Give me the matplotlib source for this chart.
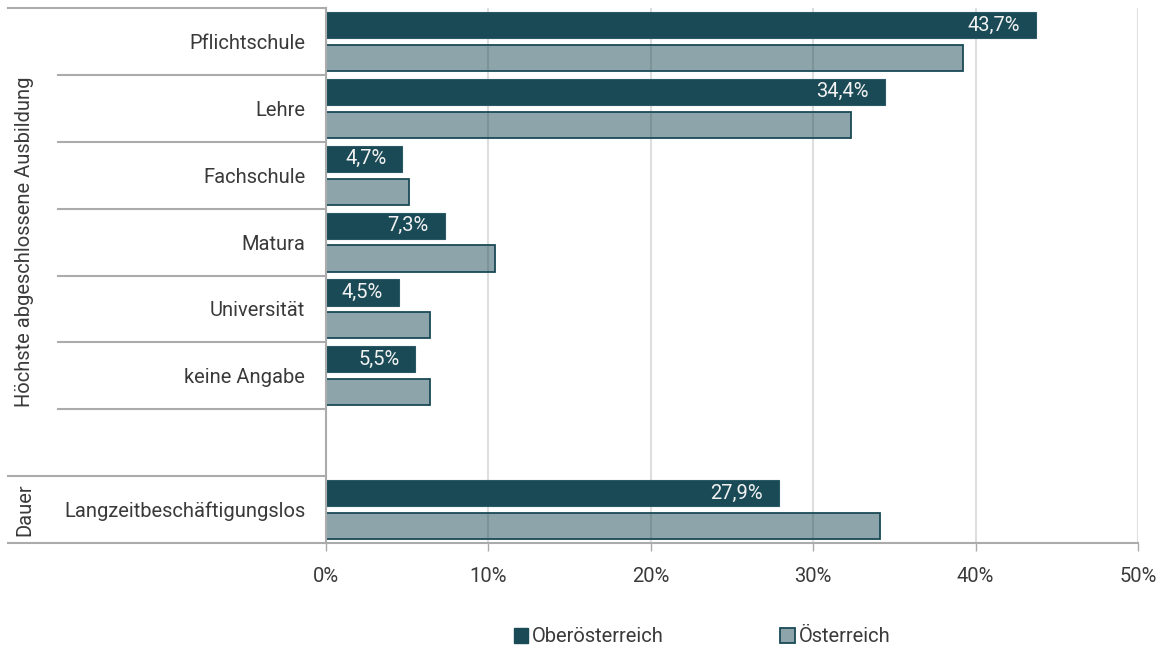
import matplotlib.pyplot as plt
from matplotlib.patches import Patch
import numpy as np

plt.rcParams['font.family'] = ['Roboto', 'DejaVu Sans']

categories = ['Pflichtschule', 'Lehre', 'Fachschule', 'Matura', 'Universität',
              'keine Angabe', '', 'Langzeitbeschäftigungslos']
ooe = [43.7, 34.4, 4.7, 7.3, 4.5, 5.5, np.nan, 27.9]
oe = [39.2, 32.3, 5.1, 10.4, 6.4, 6.4, np.nan, 34.1]
series_names = ['Oberösterreich', 'Österreich']
ticks = [0, 10, 20, 30, 40, 50]

dark = '#1a4a56'
light = (0.102, 0.29, 0.337, 0.5)
line_col = '#ababab'
text_col = '#3a3a3a'
fs = 14.5

fig = plt.figure(figsize=(11.68, 6.53), dpi=100)
ax = fig.add_axes([326 / 1168, 1 - 543 / 653, 812 / 1168, 535 / 653])

n = len(categories)
centers = np.array([n - i - 0.5 for i in range(n)])
h = 0.39
off = 0.246

ax.barh(centers + off, ooe, height=h, color=dark, edgecolor='#2a5a66', linewidth=0.8, zorder=2)
ax.barh(centers - off, oe, height=h, facecolor=light, edgecolor=dark, linewidth=1.3, zorder=2)

for y, v in zip(centers + off, ooe):
    if np.isnan(v):
        continue
    ax.annotate(f'{v:.1f}%'.replace('.', ','), (v, y), xytext=(-16, 0),
                textcoords='offset pixels', ha='right', va='center',
                color='#f2f2f2', fontsize=fs, zorder=4)

ax.set_xlim(0, 50)
ax.set_ylim(0, n)
ax.set_xticks(ticks)
ax.set_xticklabels([f'{t}%' for t in ticks], fontsize=fs, color=text_col)
ax.tick_params(axis='x', length=6, width=1, color=line_col, pad=11)
ax.set_yticks(centers)
ax.set_yticklabels(categories, fontsize=fs, color=text_col)
ax.tick_params(axis='y', length=0, pad=15)

for t in ticks[1:]:
    ax.axvline(t, color='#dedede', linewidth=1.5, zorder=1)

for s in ['top', 'right']:
    ax.spines[s].set_visible(False)
for s in ['left', 'bottom']:
    ax.spines[s].set_color(line_col)
    ax.spines[s].set_linewidth(1.5)
    ax.spines[s].set_zorder(5)

# group separators left of the axis
tr = ax.get_yaxis_transform()
x_long = (8 - 326) / 812
x_short = (58 - 326) / 812
for y in [8, 1, 0]:
    ax.plot([x_long, 0], [y, y], transform=tr, color=line_col, lw=1.5, clip_on=False)
for y in [7, 6, 5, 4, 3, 2]:
    ax.plot([x_short, 0], [y, y], transform=tr, color=line_col, lw=1.5, clip_on=False)

x_grp = (25 - 326) / 812
ax.text(x_grp, 4.5, 'Höchste abgeschlossene Ausbildung', transform=tr, rotation=90,
        ha='center', va='center', fontsize=fs, color=text_col)
ax.text(x_grp, 0.5, 'Dauer', transform=tr, rotation=90,
        ha='center', va='center', fontsize=fs, color=text_col)

handles = [Patch(facecolor=dark, edgecolor=dark),
           Patch(facecolor=light, edgecolor=dark, linewidth=1.3)]
fig.legend(handles, series_names, loc='center', bbox_to_anchor=(702 / 1168, 1 - 637 / 653),
           ncol=2, frameon=False, handlelength=0.7, handleheight=0.7, handletextpad=0.2,
           columnspacing=5.8, prop={'size': fs}, labelcolor=text_col)

fig.savefig('out.png', dpi=100)
